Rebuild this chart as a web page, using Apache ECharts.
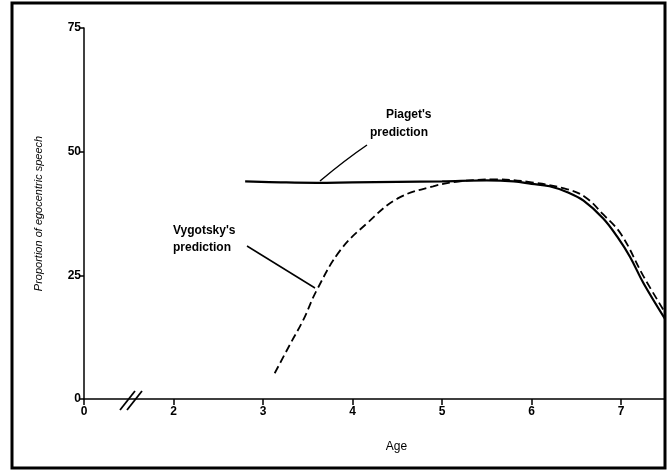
<!DOCTYPE html>
<html>
<head>
<meta charset="utf-8">
<script src="https://cdn.jsdelivr.net/npm/echarts@6/dist/echarts.min.js"></script>
<style>
  html, body { margin: 0; padding: 0; background: #fff; }
  #chart { width: 667px; height: 472px; }
</style>
</head>
<body>
<div id="chart"></div>
<script>
// x axis is broken: position 1 is labelled "0", the rest are real ages
const xTicks = [1, 2, 3, 4, 5, 6, 7]
const yTicks = [0, 25, 50, 75]

// Piaget's prediction (solid)
const piagetAge = [2.8, 3.2, 3.6, 4.0, 4.5, 5.0, 5.5, 5.8, 6.0, 6.2, 6.4, 6.58, 6.8, 6.96, 7.1, 7.25, 7.49]
const piagetVal = [44, 43.8, 43.7, 43.8, 43.9, 44.0, 44.2, 44.0, 43.5, 43.0, 41.8, 40.1, 36.5, 32.7, 28.7, 23.4, 16.2]

// Vygotsky's prediction (dashed)
const vygotskyAge = [3.13, 3.3, 3.45, 3.6, 3.86, 4.16, 4.5, 4.9, 5.2, 5.6, 6.0, 6.4, 6.6, 6.8, 7.0, 7.25, 7.49]
const vygotskyVal = [5.2, 11, 16, 22, 30, 35.5, 40.5, 43, 44, 44.4, 43.8, 42.4, 40.8, 37.3, 33.3, 24.8, 17.5]

const font = 'Liberation Sans'

const chart = echarts.init(document.getElementById('chart'))
const option = {
  backgroundColor: '#fff',
  animation: false,
  grid: {
    left: 84,
    right: 2,
    top: 28,
    bottom: 73
  },
  xAxis: {
    type: 'value',
    min: 1,
    max: 7.49,
    interval: 1,
    name: 'Age',
    nameLocation: 'middle',
    nameGap: 42,
    nameTextStyle: { color: '#000', fontFamily: font, fontSize: 12, padding: [0, 0, 0, 44] },
    splitLine: { show: false },
    axisLine: { lineStyle: { color: '#000', width: 1.5 } },
    axisTick: { length: 6, lineStyle: { color: '#000', width: 1.5 } },
    axisLabel: {
      color: '#000',
      fontFamily: font,
      fontWeight: 'bold',
      fontSize: 12,
      margin: 7,
      showMaxLabel: false,
      formatter: v => (xTicks.includes(v) ? (v === 1 ? '0' : String(v)) : '')
    }
  },
  yAxis: {
    type: 'value',
    min: 0,
    max: 75,
    interval: 25,
    name: 'Proportion of egocentric speech',
    nameLocation: 'middle',
    nameGap: 40,
    nameTextStyle: { color: '#000', fontFamily: font, fontSize: 11, fontStyle: 'italic' },
    splitLine: { show: false },
    axisLine: { show: true, lineStyle: { color: '#000', width: 1.5 } },
    axisTick: { show: true, length: 5, lineStyle: { color: '#000', width: 1.5 } },
    axisLabel: {
      color: '#000',
      fontFamily: font,
      fontWeight: 'bold',
      fontSize: 12,
      margin: 3,
      formatter: v => (yTicks.includes(v) ? String(v) : '')
    }
  },
  series: [
    {
      name: "Piaget's prediction",
      type: 'line',
      smooth: 0.4,
      showSymbol: false,
      clip: true,
      data: piagetAge.map((a, i) => [a, piagetVal[i]]),
      lineStyle: { color: '#000', width: 2.2 }
    },
    {
      name: "Vygotsky's prediction",
      type: 'line',
      smooth: 0.4,
      showSymbol: false,
      clip: true,
      data: vygotskyAge.map((a, i) => [a, vygotskyVal[i]]),
      lineStyle: { color: '#000', width: 1.8, type: [8, 4] }
    }
  ],
  graphic: [
    {
      type: 'rect',
      shape: { x: 12, y: 3, width: 653, height: 465 },
      style: { fill: 'none', stroke: '#000', lineWidth: 3 },
      silent: true
    },
    // axis break marks
    { type: 'line', shape: { x1: 120, y1: 410, x2: 135, y2: 391 }, style: { stroke: '#000', lineWidth: 1.8 } },
    { type: 'line', shape: { x1: 127, y1: 410, x2: 142, y2: 391 }, style: { stroke: '#000', lineWidth: 1.8 } },
    // labels
    {
      type: 'text', left: 386, top: 109,
      style: { text: "Piaget's", fill: '#000', font: 'bold 12px "Liberation Sans"' }
    },
    {
      type: 'text', left: 370, top: 127,
      style: { text: 'prediction', fill: '#000', font: 'bold 12px "Liberation Sans"' }
    },
    {
      type: 'text', left: 173, top: 225,
      style: { text: "Vygotsky's", fill: '#000', font: 'bold 12px "Liberation Sans"' }
    },
    {
      type: 'text', left: 173, top: 242,
      style: { text: 'prediction', fill: '#000', font: 'bold 12px "Liberation Sans"' }
    },
    // leader lines
    {
      type: 'bezierCurve',
      shape: { x1: 367, y1: 145, cpx1: 345, cpy1: 160, x2: 320, y2: 181 },
      style: { stroke: '#000', lineWidth: 1.5, fill: 'none' }
    },
    {
      type: 'line',
      shape: { x1: 247, y1: 246, x2: 315, y2: 288 },
      style: { stroke: '#000', lineWidth: 1.5 }
    }
  ]
}
option && chart.setOption(option)
</script>
</body>
</html>
